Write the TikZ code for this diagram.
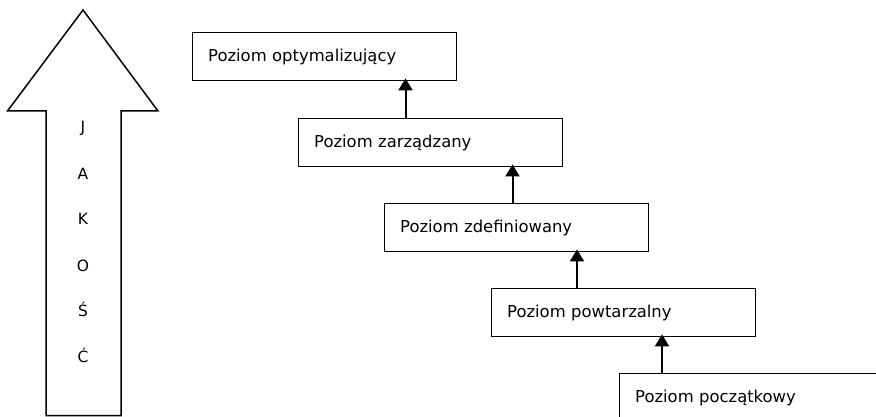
\documentclass[tikz,border=0pt]{standalone}
\usepackage{fontspec}
\setmainfont{DejaVu Sans}
\usetikzlibrary{arrows.meta}
\tikzset{
  level/.style={draw, line width=1.4pt, anchor=north west, minimum height=48pt,
    text width=233pt, inner xsep=15.5pt, inner ysep=0pt, align=left,
    text height=12pt, text depth=1.5pt, font=\fontsize{16.4pt}{19pt}\selectfont},
  conn/.style={line width=2pt, -{Triangle[length=12pt,width=14pt]}, shorten >=-3pt},
  letter/.style={anchor=base, inner sep=0pt, font=\fontsize{15.5pt}{18pt}\selectfont},
  bigarrow/.style={draw, line width=1.5pt, line join=miter}
}
\begin{document}
\begin{tikzpicture}[x=1pt,y=-1pt]
\useasboundingbox (0,0) rectangle (876,417);
\clip (0,0) rectangle (876,417);
% big quality arrow
\draw[bigarrow] (83,10) -- (158,111) -- (121,111) -- (121,415.5) -- (46,415.5) -- (46,111) -- (7.5,111) -- cycle;
\node[letter] (l1) at (83,133) {J};
\node[letter] (l2) at (83,179) {A};
\node[letter] (l3) at (83,225) {K};
\node[letter] (l4) at (83,271) {O};
\node[letter] (l5) at (83,316) {Ś};
\node[letter] (l6) at (83,362) {Ć};
% levels
\node[level] (b1) at (192,32) {Poziom optymalizujący};
\node[level] (b2) at (298,118) {Poziom zarządzany};
\node[level] (b3) at (384,203) {Poziom zdefiniowany};
\node[level] (b4) at (491,288) {Poziom powtarzalny};
\node[level] (b5) at (619,373) {Poziom początkowy};
% connectors
\coordinate (x1) at (405.5,0);
\coordinate (x2) at (512.5,0);
\coordinate (x3) at (577,0);
\coordinate (x4) at (662,0);
\draw[conn] (x1 |- b2.north) -- (x1 |- b1.south);
\draw[conn] (x2 |- b3.north) -- (x2 |- b2.south);
\draw[conn] (x3 |- b4.north) -- (x3 |- b3.south);
\draw[conn] (x4 |- b5.north) -- (x4 |- b4.south);
\end{tikzpicture}
\end{document}
